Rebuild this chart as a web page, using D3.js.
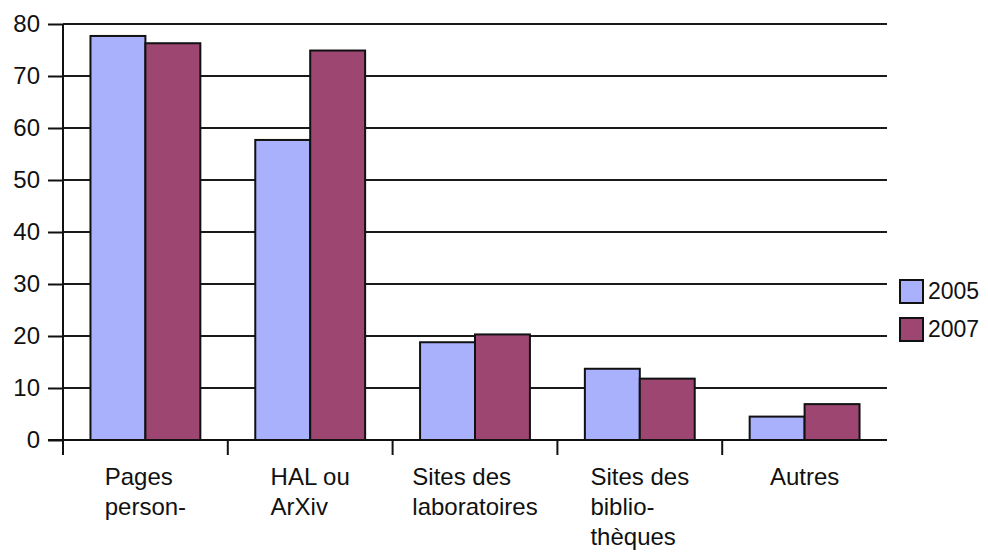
<!DOCTYPE html>
<html>
<head>
<meta charset="utf-8">
<script src="https://cdn.jsdelivr.net/npm/d3@7"></script>
<style>
  body { margin: 0; background: #fff; }
  svg { display: block; font-family: "Liberation Sans", Arial, sans-serif; }
</style>
</head>
<body>
<svg width="988" height="554"></svg>
<script>
const categories = [
  ['Pages', 'person-'],
  ['HAL ou', 'ArXiv'],
  ['Sites des', 'laboratoires'],
  ['Sites des', 'biblio-', 'thèques'],
  ['Autres'],
];
const series = ['2005', '2007'];
const values2005 = [77.7, 57.7, 18.8, 13.7, 4.5];
const values2007 = [76.3, 74.9, 20.3, 11.8, 6.9];
const yTicks = [0, 10, 20, 30, 40, 50, 60, 70, 80];
const colors = ['#a9b1fd', '#9c4671'];

const svg = d3.select('svg');
const plot = {left: 63, right: 887, top: 24, bottom: 440};

const data = categories.map((lines, i) => ({
  id: i,
  lines,
  vals: [values2005[i], values2007[i]],
}));

const x0 = d3.scaleBand().domain(data.map((d) => d.id)).range([plot.left, plot.right]);
const x1 = d3
  .scaleBand()
  .domain(series)
  .range([0, x0.bandwidth()])
  .paddingInner(0)
  .paddingOuter(0.5);
const y = d3.scaleLinear().domain([0, 80]).range([plot.bottom, plot.top]);

// grid lines
svg
  .append('g')
  .selectAll('line')
  .data(yTicks.filter((t) => t > 0))
  .enter()
  .append('line')
  .attr('x1', plot.left)
  .attr('x2', plot.right)
  .attr('y1', (d) => y(d))
  .attr('y2', (d) => y(d))
  .style('stroke', '#1a1a1a')
  .style('stroke-width', 2);

// bars
svg
  .append('g')
  .selectAll('g')
  .data(data)
  .enter()
  .append('g')
  .attr('transform', (d) => `translate(${x0(d.id)},0)`)
  .selectAll('rect')
  .data((d) => d.vals.map((v, k) => ({v, k})))
  .enter()
  .append('rect')
  .attr('x', (d) => x1(series[d.k]))
  .attr('width', x1.bandwidth())
  .attr('y', (d) => y(d.v))
  .attr('height', (d) => y(0) - y(d.v))
  .style('fill', (d) => colors[d.k])
  .style('stroke', '#111')
  .style('stroke-width', 2);

// y axis
const yAxis = svg
  .append('g')
  .attr('transform', `translate(${plot.left},0)`)
  .call(d3.axisLeft(y).tickValues(yTicks).tickSize(15).tickPadding(8));
yAxis.select('.domain').remove();
yAxis.selectAll('line').style('stroke', '#111').style('stroke-width', 2);
yAxis
  .selectAll('text')
  .style('font-size', '24px')
  .style('fill', '#111')
  .style('font-family', '"Liberation Sans", Arial, sans-serif');

svg
  .append('line')
  .attr('x1', plot.left)
  .attr('x2', plot.left)
  .attr('y1', plot.top)
  .attr('y2', plot.bottom)
  .style('stroke', '#111')
  .style('stroke-width', 2);

// x axis line + boundary ticks
svg
  .append('line')
  .attr('x1', plot.left - 15)
  .attr('x2', plot.right)
  .attr('y1', plot.bottom)
  .attr('y2', plot.bottom)
  .style('stroke', '#111')
  .style('stroke-width', 2);

svg
  .append('g')
  .selectAll('line')
  .data(data)
  .enter()
  .append('line')
  .attr('x1', (d) => x0(d.id))
  .attr('x2', (d) => x0(d.id))
  .attr('y1', plot.bottom)
  .attr('y2', plot.bottom + 15)
  .style('stroke', '#111')
  .style('stroke-width', 2);

// category labels: block centred, lines left aligned
const labels = svg
  .append('g')
  .selectAll('text')
  .data(data)
  .enter()
  .append('text')
  .style('font-size', '24px')
  .style('fill', '#111');

labels
  .selectAll('tspan')
  .data((d) => d.lines)
  .enter()
  .append('tspan')
  .attr('dy', (d, i) => (i === 0 ? 0 : 30))
  .text((d) => d);

labels.each(function (d) {
  const el = d3.select(this);
  const w = d3.max(el.selectAll('tspan').nodes(), (n) => n.getComputedTextLength());
  const cx = x0(d.id) + x0.bandwidth() / 2;
  el.attr('y', plot.bottom + 45);
  el.selectAll('tspan').attr('x', cx - w / 2);
});

// legend
const legend = svg
  .append('g')
  .selectAll('g')
  .data(series)
  .enter()
  .append('g')
  .attr('transform', (d, i) => `translate(900,${280 + i * 38})`);

legend
  .append('rect')
  .attr('width', 23)
  .attr('height', 23)
  .style('fill', (d, i) => colors[i])
  .style('stroke', '#111')
  .style('stroke-width', 2);

legend
  .append('text')
  .attr('x', 28)
  .attr('y', 19)
  .style('font-size', '23px')
  .style('fill', '#111')
  .text((d) => d);
</script>
</body>
</html>
